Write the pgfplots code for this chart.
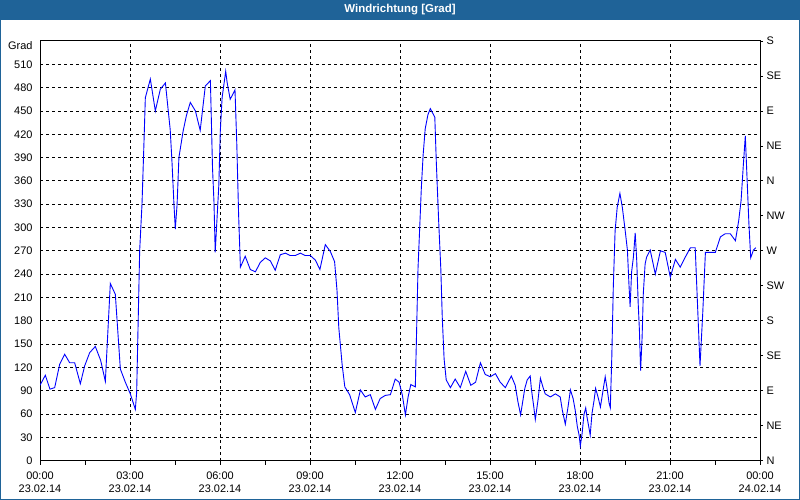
\documentclass[border=0pt]{standalone}
\usepackage{fontspec}
\setmainfont{Liberation Sans}
\usepackage{pgfplots}
\pgfplotsset{compat=1.18}
\definecolor{titleblue}{RGB}{31,99,152}
\begin{document}
\begin{tikzpicture}[x=1bp,y=1bp]
\fill[white] (0,0) rectangle (800,500);
\fill[titleblue] (0,480) rectangle (800,500);
\draw[titleblue,line width=1bp] (0.5,0.5) rectangle (799.5,499.5);
\node[text=white,font=\fontsize{11.5}{13}\selectfont\bfseries] at (400,490) {Windrichtung [Grad]};
\begin{axis}[at={(40bp,39.3bp)}, anchor=south west, scale only axis,
  width=720bp, height=419.7bp,
  xmin=0, xmax=24, ymin=0, ymax=540,
  xtick={0,3,...,24}, minor xtick={1.5,4.5,...,22.5},
  xticklabels={{00:00\\23.02.14},{03:00\\23.02.14},{06:00\\23.02.14},{09:00\\23.02.14},{12:00\\23.02.14},{15:00\\23.02.14},{18:00\\23.02.14},{21:00\\23.02.14},{00:00\\24.02.14}},
  xticklabel style={align=center, font=\fontsize{11}{13}\selectfont, yshift=-3.5bp},
  ytick={0,30,...,510},
  yticklabel style={font=\fontsize{11}{13}\selectfont},
  /pgf/number format/assume math mode=true,
  extra y ticks={540}, extra y tick labels={Grad},
  extra y tick style={grid=none, yticklabel style={yshift=-4.5bp}},
  grid=major,
  major grid style={black, line width=0.8bp, dash pattern=on 3bp off 3bp},
  axis line style={black, line width=1bp},
  tick align=outside, xtick pos=left, ytick pos=left,
  every tick/.style={black, line width=0.8bp},
  major tick length=4bp, minor tick length=4bp,
  ytick style={draw=none},
]
\addplot[color={rgb,255:red,0;green,0;blue,255}, line width=0.9bp] coordinates {
(0,97) (0.178,110) (0.333,92) (0.489,94) (0.656,124) (0.822,137) (0.989,126) (1.156,126)
(1.344,99) (1.489,122) (1.656,139) (1.844,147) (2.022,129) (2.178,102) (2.344,228) (2.511,214)
(2.678,118) (2.844,101) (3.011,86) (3.178,66) (3.222,88) (3.322,270) (3.4,330) (3.467,411)
(3.511,467) (3.678,491) (3.844,450) (4.011,478) (4.18,486) (4.27,452) (4.34,426) (4.4,384)
(4.46,334) (4.51,298) (4.57,330) (4.63,390) (4.77,424) (4.88,444) (5.01,461) (5.18,450)
(5.34,425) (5.51,482) (5.68,489) (5.75,377) (5.8,332) (5.84,268) (5.89,304) (5.96,354)
(6.01,424) (6.07,467) (6.19,501) (6.24,486) (6.34,465) (6.5,477) (6.56,407) (6.62,317)
(6.68,249) (6.84,263) (7.01,246) (7.18,243) (7.34,255) (7.51,261) (7.68,257) (7.84,245)
(8.01,265) (8.18,267) (8.34,264) (8.51,264) (8.68,267) (8.84,264) (9.01,264) (9.18,258)
(9.33,246) (9.51,278) (9.68,269) (9.82,256) (9.9,219) (9.96,171) (10.01,150) (10.07,124)
(10.16,95) (10.32,85) (10.51,62) (10.68,91) (10.84,82) (11.01,85) (11.18,66) (11.34,80)
(11.51,84) (11.68,85) (11.84,105) (11.97,101) (12.08,84) (12.18,59) (12.27,82) (12.36,98)
(12.51,95) (12.55,161) (12.6,247) (12.66,303) (12.71,350) (12.77,393) (12.84,427) (12.93,445)
(13.01,453) (13.16,442) (13.21,384) (13.29,307) (13.36,247) (13.41,183) (13.47,131) (13.54,104)
(13.68,94) (13.84,105) (14.01,94) (14.19,115) (14.36,97) (14.52,101) (14.68,126) (14.84,111)
(15.01,108) (15.18,112) (15.34,101) (15.51,94) (15.71,109) (15.84,97) (15.93,76) (16.02,59)
(16.16,93) (16.24,104) (16.34,109) (16.38,92) (16.46,69) (16.51,53) (16.6,78) (16.68,106)
(16.77,94) (16.84,86) (17.01,82) (17.18,86) (17.34,82) (17.41,65) (17.51,47) (17.6,69)
(17.68,91) (17.77,80) (17.84,65) (17.91,44) (17.97,33) (18.01,19) (18.07,35) (18.13,59)
(18.19,68) (18.23,57) (18.29,44) (18.34,33) (18.4,61) (18.47,78) (18.52,93) (18.6,82)
(18.68,69) (18.77,91) (18.84,108) (18.91,91) (18.97,74) (19.01,68) (19.06,134) (19.11,224)
(19.17,296) (19.24,326) (19.33,344) (19.41,326) (19.5,298) (19.58,271) (19.63,228) (19.67,198)
(19.72,243) (19.78,262) (19.84,293) (19.89,258) (19.94,202) (19.98,168) (20.02,116) (20.07,159)
(20.11,215) (20.17,253) (20.22,262) (20.34,271) (20.51,240) (20.68,270) (20.84,268) (21.01,236)
(21.18,259) (21.34,249) (21.51,262) (21.68,274) (21.84,274) (21.92,198) (22.0,122) (22.09,189)
(22.18,268) (22.34,268) (22.51,268) (22.68,288) (22.84,292) (23.01,292) (23.18,283) (23.29,309)
(23.37,335) (23.44,378) (23.51,418) (23.58,352) (23.63,305) (23.69,261) (23.78,271) (23.86,274)
};
\end{axis}
\begin{axis}[at={(40bp,39.3bp)}, anchor=south west, scale only axis,
  width=720bp, height=419.7bp,
  xmin=0, xmax=24, ymin=0, ymax=540,
  axis x line=none, axis y line*=right,
  axis line style={black, line width=1bp, -},
  ytick={0,45,...,540},
  yticklabels={N,NE,E,SE,S,SW,W,NW,N,NE,E,SE,S},
  yticklabel style={font=\fontsize{11}{13}\selectfont},
  tick align=outside, major tick length=3bp,
  every tick/.style={black, line width=0.8bp},
]
\end{axis}
\end{tikzpicture}
\end{document}
